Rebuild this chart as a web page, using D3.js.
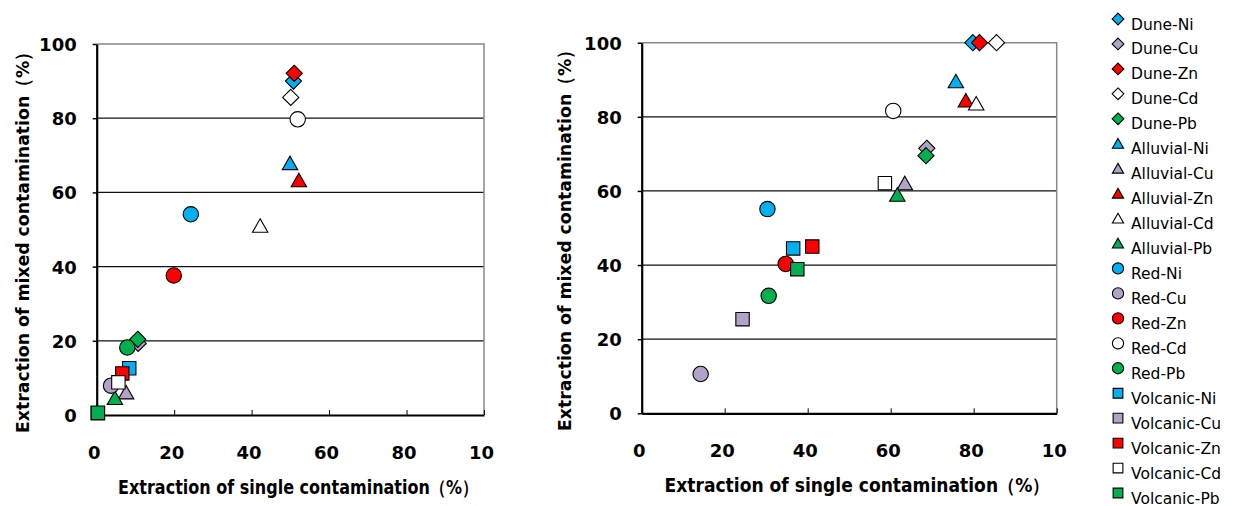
<!DOCTYPE html>
<html><head><meta charset="utf-8">
<script src="https://cdn.jsdelivr.net/npm/d3@7"></script>
<style>body{margin:0;background:#fff}svg{display:block}</style>
</head><body><svg id="c" width="1235" height="506"></svg>
<script>
const seriesNames = ["Dune-Ni","Dune-Cu","Dune-Zn","Dune-Cd","Dune-Pb",
  "Alluvial-Ni","Alluvial-Cu","Alluvial-Zn","Alluvial-Cd","Alluvial-Pb",
  "Red-Ni","Red-Cu","Red-Zn","Red-Cd","Red-Pb",
  "Volcanic-Ni","Volcanic-Cu","Volcanic-Zn","Volcanic-Cd","Volcanic-Pb"];
const soilShapes = ["diamond","triangle","circle","square"];
const metalColors = ["#00B0F0","#B3A2C7","#FF0000","#FFFFFF","#00B050"];
// left chart
const leftX = [50.8,10.7,51.0,50.1,10.6, 49.9,7.6,52.2,42.2,4.7, 24.3,3.7,19.9,51.9,7.9, 8.4,0.3,6.6,5.6,0.3];
const leftY = [90.0,19.3,92.1,85.6,20.4, 67.8,6.0,63.2,50.9,4.5, 54.1,7.9,37.6,79.7,18.2, 12.6,0.5,11.2,8.8,0.6];
// right chart
const rightX = [79.8,68.7,81.4,85.5,68.5, 75.7,63.4,78.1,80.6,61.6, 30.3,14.2,34.7,60.6,30.6, 36.5,24.3,41.1,58.6,37.5];
const rightY = [100,71.5,100,100,69.5, 89.5,62.0,84.3,83.5,58.9, 55.1,10.6,40.3,81.6,31.7, 44.5,25.4,45.0,62.1,38.9];
const tickValues = [0,20,40,60,80,100];
const xTickLabels = ["0","20","40","60","80","10"];
const yTickLabels = ["0","20","40","60","80","100"];
const xTitle = "Extraction of single contamination（%）";
const yTitle = "Extraction of mixed contamination（%）";

const svg = d3.select("#c");
const shapePath = {
  diamond: r => `M0,${-r*1.05}L${r*1.05},0L0,${r*1.05}L${-r*1.05},0Z`,
  triangle: r => `M0,${-r*0.95}L${r},${r*0.8}L${-r},${r*0.8}Z`,
  circle: r => `M${r},0A${r},${r} 0 1,1 ${-r},0A${r},${r} 0 1,1 ${r},0Z`,
  square: r => `M${-r*0.87},${-r*0.87}H${r*0.87}V${r*0.87}H${-r*0.87}Z`
};
const shapeOf = i => soilShapes[Math.floor(i/5)];
const colorOf = i => metalColors[i%5];

function chart(xr, yr, xs, ys, xt, yt){
  const x = d3.scaleLinear().domain([0,100]).range(xr);
  const y = d3.scaleLinear().domain([0,100]).range(yr);
  const g = svg.append("g");
  g.selectAll(".grid").data([20,40,60,80]).join("line")
    .attr("x1", x(0)).attr("x2", x(100)).attr("y1", d=>y(d)).attr("y2", d=>y(d))
    .attr("stroke","#111").attr("stroke-width",1.3);
  g.append("path").attr("d",`M${x(0)},${y(100)}H${x(100)}V${y(0)}`)
    .attr("fill","none").attr("stroke","#888").attr("stroke-width",1.5);
  const xa = g.append("g").attr("transform",`translate(0,${y(0)})`)
    .call(d3.axisBottom(x).tickValues(tickValues).tickSizeInner(-5).tickSizeOuter(0).tickFormat((d,i)=>xTickLabels[i]));
  xa.select(".domain").attr("stroke","#000").attr("stroke-width",2.2);
  xa.selectAll(".tick line").attr("stroke","#000").attr("stroke-width",1);
  xa.selectAll(".tick text").attr("y",31).attr("dx","-3")
    .attr("font-family","DejaVu Sans").attr("font-weight","bold").attr("font-size",18).attr("fill","#000");
  const ya = g.append("g").attr("transform",`translate(${x(0)},0)`)
    .call(d3.axisLeft(y).tickValues(tickValues).tickSizeInner(4).tickSizeOuter(0).tickFormat((d,i)=>yTickLabels[i]));
  ya.select(".domain").attr("stroke","#000").attr("stroke-width",2.2);
  ya.selectAll(".tick line").attr("stroke","#000").attr("stroke-width",1.5);
  ya.selectAll(".tick text").attr("x",-20).attr("dy","0.36em")
    .attr("font-family","DejaVu Sans").attr("font-weight","bold").attr("font-size",18).attr("fill","#000");
  g.selectAll(".pt").data(seriesNames).join("path")
    .attr("transform",(d,i)=>`translate(${x(xs[i])},${y(ys[i])})`)
    .attr("d",(d,i)=>shapePath[shapeOf(i)](7.7))
    .attr("fill",(d,i)=>colorOf(i)).attr("stroke","#000").attr("stroke-width",1.1);
  g.append("text").attr("x",xt[0]).attr("y",xt[1]).attr("text-anchor","middle")
    .attr("font-family","DejaVu Sans").attr("font-weight","bold").attr("font-size",19)
    .attr("textLength",xt[2]).attr("lengthAdjust","spacingAndGlyphs").text(xTitle);
  g.append("text").attr("transform",`translate(${yt[0]},${yt[1]}) rotate(-90)`).attr("text-anchor","middle")
    .attr("font-family","DejaVu Sans").attr("font-weight","bold").attr("font-size",18.5)
    .attr("textLength",yt[2]).attr("lengthAdjust","spacingAndGlyphs").text(yTitle);
}
chart([96.7,484],[415,44], leftX, leftY, [298,494,360], [29,238,390]);
chart([641.7,1056.7],[413.3,42.7], rightX, rightY, [857,492,385], [571,236,390]);

const lg = svg.append("g");
const ly = d3.scaleLinear().domain([0,19]).range([24,498]);
const items = lg.selectAll(".li").data(seriesNames).join("g");
items.append("path")
  .attr("transform",(d,i)=>`translate(1118,${ly(i)-5})`)
  .attr("d",(d,i)=>shapePath[shapeOf(i)](5.6))
  .attr("fill",(d,i)=>colorOf(i)).attr("stroke","#000").attr("stroke-width",1.1);
items.append("text").attr("x",1131).attr("y",(d,i)=>ly(i)+5.5)
  .attr("font-family","DejaVu Sans").attr("font-size",15.5).attr("fill","#000").text(d=>d);
</script></body></html>
